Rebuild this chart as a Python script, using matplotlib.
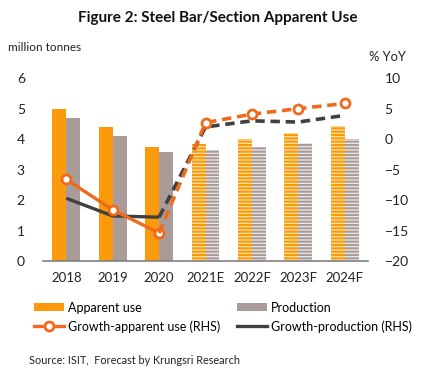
import matplotlib
matplotlib.use("Agg")
import matplotlib.pyplot as plt
from matplotlib.patches import Patch
from matplotlib.lines import Line2D
import numpy as np

plt.rcParams['font.family'] = ['Lato', 'DejaVu Sans']
plt.rcParams['hatch.linewidth'] = 1.5

categories = ['2018', '2019', '2020', '2021E', '2022F', '2023F', '2024F']
apparent_use = [5.0, 4.40, 3.73, 3.83, 3.99, 4.19, 4.44]
production = [4.69, 4.10, 3.57, 3.63, 3.73, 3.86, 3.99]
growth_apparent = [-6.6, -11.6, -15.4, 2.7, 4.1, 5.0, 5.85]
growth_production = [-9.7, -12.6, -12.8, 2.0, 3.0, 2.8, 3.9]
n_actual = 3

C_APP = '#FB9A0A'
C_APP_L = '#FFE2A6'
C_PROD = '#A99C98'
C_PROD_L = '#EEEAE8'
C_LINE_O = '#F06A1C'
C_LINE_D = '#404040'

fig = plt.figure(figsize=(4.35, 3.74), dpi=100)
ax = fig.add_axes([0.099, 0.302, 0.747, 0.489])
ax2 = ax.twinx()

x = np.arange(len(categories))
w = 0.30
for i in range(len(categories)):
    if i < n_actual:
        ax.bar(x[i] - w / 2, apparent_use[i], w, color=C_APP, linewidth=0)
        ax.bar(x[i] + w / 2, production[i], w, color=C_PROD, linewidth=0)
    else:
        ax.bar(x[i] - w / 2, apparent_use[i], w, facecolor=C_APP_L, edgecolor=C_APP,
               hatch='-----', linewidth=0)
        ax.bar(x[i] + w / 2, production[i], w, facecolor=C_PROD_L, edgecolor=C_PROD,
               hatch='-----', linewidth=0)

ax.set_xlim(-0.5, len(categories) - 0.5)
ax.set_ylim(0, 6)
ax.set_yticks(range(0, 7))
ax2.set_ylim(-20, 10)
ax2.set_yticks(range(-20, 11, 5))

dash = (0, (2.6, 1.6))
ax2.plot(x[:n_actual], growth_production[:n_actual], color=C_LINE_D, lw=2.4, solid_capstyle='butt')
ax2.plot(x[n_actual - 1:], growth_production[n_actual - 1:], color=C_LINE_D, lw=2.6, linestyle=dash)
ax2.plot(x[:n_actual], growth_apparent[:n_actual], color=C_LINE_O, lw=2.4,
         marker='o', markersize=6.5, markerfacecolor='white', markeredgecolor=C_LINE_O, markeredgewidth=2)
ax2.plot(x[n_actual - 1:], growth_apparent[n_actual - 1:], color=C_LINE_O, lw=2.6, linestyle=dash)
ax2.plot(x[n_actual:], growth_apparent[n_actual:], linestyle='none',
         marker='o', markersize=6.5, markerfacecolor='white', markeredgecolor=C_LINE_O, markeredgewidth=2)

for a in (ax, ax2):
    for s in ['top', 'left', 'right', 'bottom']:
        a.spines[s].set_visible(False)
ax.spines['bottom'].set_visible(True)
ax.spines['bottom'].set_color('#808080')
ax.spines['bottom'].set_linewidth(1.2)

ax.set_xticks(x)
ax.set_xticklabels(categories)
ax.tick_params(axis='x', length=0, pad=8, labelsize=9.5, colors='#222222')
ax.tick_params(axis='y', length=0, pad=16, labelsize=10, colors='#222222')
ax2.tick_params(axis='y', length=0, pad=12, labelsize=10, colors='#222222')
for lbl in ax.get_yticklabels():
    lbl.set_horizontalalignment('center')

fig.text(0.5, 0.952, 'Figure 2: Steel Bar/Section Apparent Use', ha='center', va='center',
         fontsize=11, fontweight='bold', color='#111111')
fig.text(0.018, 0.872, 'million tonnes', ha='left', va='center', fontsize=8.5, color='#222222')
fig.text(0.849, 0.848, '% YoY', ha='left', va='center', fontsize=9.3, color='#222222')

h_app = Patch(facecolor=C_APP, edgecolor='none')
h_gapp = Line2D([0], [0], color=C_LINE_O, lw=2.4, marker='o', markersize=6.5,
                markerfacecolor='white', markeredgecolor=C_LINE_O, markeredgewidth=2)
h_prod = Patch(facecolor=C_PROD, edgecolor='none')
h_gprod = Line2D([0], [0], color=C_LINE_D, lw=2.4)

leg_kw = dict(frameon=False, fontsize=9, handlelength=2.4, handleheight=0.6,
              handletextpad=0.3, labelspacing=0.5, borderaxespad=0, borderpad=0)
leg1 = fig.legend([h_app, h_gapp], ['Apparent use', 'Growth-apparent use (RHS)'],
                  loc='center left', bbox_to_anchor=(0.078, 0.152), **leg_kw)
leg2 = fig.legend([h_prod, h_gprod], ['Production', 'Growth-production (RHS)'],
                  loc='center left', bbox_to_anchor=(0.545, 0.152), **leg_kw)

fig.text(0.067, 0.037, 'Source: ISIT,  Forecast by Krungsri Research', ha='left', va='center',
         fontsize=7.8, color='#222222')

fig.savefig('out.png', dpi=100)
